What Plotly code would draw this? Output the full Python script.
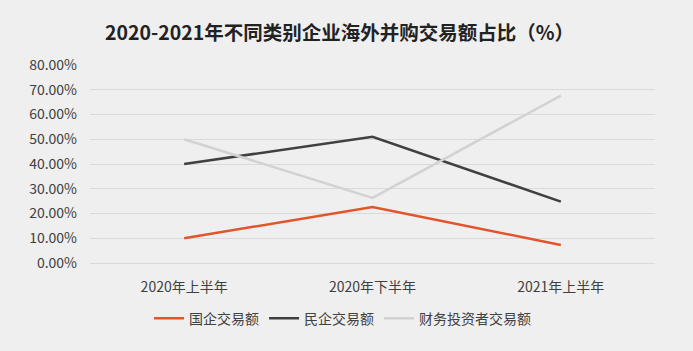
import plotly.graph_objects as go

categories = ["2020年上半年", "2020年下半年", "2021年上半年"]
soe = [10.0, 22.6, 7.3]
private = [40.0, 51.0, 24.8]
financial = [50.0, 26.3, 67.6]
series_names = ["国企交易额", "民企交易额", "财务投资者交易额"]
colors = ["#e4542c", "#404040", "#d2d2d2"]

font_family = "Noto Sans CJK SC, Noto Sans, sans-serif"

fig = go.Figure()
for name, vals, c in zip(series_names, [soe, private, financial], colors):
    fig.add_trace(go.Scatter(x=categories, y=vals, mode="lines", name=name,
                             line=dict(color=c, width=2.5)))

fig.update_layout(
    width=693, height=351,
    margin=dict(l=90, r=38, t=65, b=88),
    paper_bgcolor="#efefef",
    plot_bgcolor="#efefef",
    font=dict(family=font_family, color="#404040", size=14),
    title=dict(text="<b>2020-2021年不同类别企业海外并购交易额占比（%）</b>",
               x=0.49, xanchor="center", y=0.905, yanchor="middle",
               font=dict(size=19.5, color="#222222", family=font_family)),
    xaxis=dict(showgrid=False, showline=False, zeroline=False, ticks="",
               range=[-0.5, 2.5], ticklabelstandoff=14,
               tickfont=dict(size=14, color="#404040")),
    yaxis=dict(range=[0, 80], dtick=10, tickformat=".2f", ticksuffix="%",
               showgrid=True, gridcolor="#dadada", gridwidth=1,
               zeroline=True, zerolinecolor="#dadada", zerolinewidth=1,
               showline=False, ticks="", ticklen=0, ticklabelstandoff=12,
               tickfont=dict(size=14, color="#404040")),
    legend=dict(orientation="h", x=0.447, xanchor="center", y=-0.2, yanchor="top",
                font=dict(size=14, color="#404040"), itemwidth=30,
                bgcolor="rgba(0,0,0,0)"),
    showlegend=True,
)
fig.update_yaxes(automargin=False)
fig.update_xaxes(automargin=False)

fig.write_html("out.html")
